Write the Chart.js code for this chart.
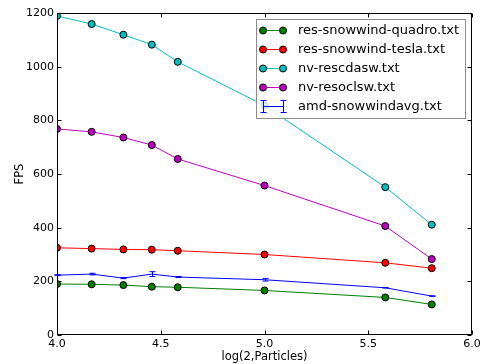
<!DOCTYPE html>
<html>
<head>
<meta charset="utf-8">
<script src="https://cdn.jsdelivr.net/npm/chart.js@4"></script>
<style>
  body { margin: 0; background: #fff; }
  #wrap { width: 485px; height: 364px; }
</style>
</head>
<body>
<div id="wrap"><canvas id="chart" width="485" height="364"></canvas></div>
<script>
// valori
const xVals = [4.0, 4.167, 4.32, 4.457, 4.582, 5.0, 5.582, 5.806];
const quadro = [190, 189, 186, 180, 178, 166, 140, 114];
const tesla = [325, 322, 319, 318, 314, 300, 269, 249];
const cdasw = [1189, 1159, 1119, 1082, 1018, 855, 551, 411];
const oclsw = [768, 757, 736, 708, 656, 557, 406, 283];
const amd = [223, 227, 212, 227, 216, 206, 176, 145];
const amdErr = [2, 3, 2, 9, 2, 5, 1, 1];

const nomi = ['res-snowwind-quadro.txt', 'res-snowwind-tesla.txt', 'nv-rescdasw.txt', 'nv-resoclsw.txt', 'amd-snowwindavg.txt'];
const colori = ['#007f00', '#ff0000', '#00bfbf', '#bf00bf', '#0000ff'];
const xTicks = [4.0, 4.5, 5.0, 5.5, 6.0];
const yTicks = [0, 200, 400, 600, 800, 1000, 1200];

const FONT = '"DejaVu Sans", sans-serif';

function punti(vals) {
  return xVals.map((x, i) => ({ x: x, y: vals[i] }));
}

function serie(i, vals, ordine, marker) {
  return {
    label: nomi[i],
    data: punti(vals),
    borderColor: colori[i],
    backgroundColor: colori[i],
    borderWidth: 1,
    pointRadius: marker ? 3.5 : 0,
    pointBorderColor: '#000',
    pointBorderWidth: 1,
    pointBackgroundColor: colori[i],
    showLine: true,
    tension: 0,
    order: ordine
  };
}

// barre d'errore, cornice, tacche, legenda, titoli
const decorazioni = {
  id: 'decorazioni',
  afterDatasetsDraw(chart) {
    const ctx = chart.ctx;
    const xs = chart.scales.x, ys = chart.scales.y;
    // error bar amd
    ctx.save();
    ctx.strokeStyle = colori[4];
    ctx.lineWidth = 1;
    xVals.forEach((x, i) => {
      const px = Math.round(xs.getPixelForValue(x)) + 0.5;
      const top = ys.getPixelForValue(amd[i] + amdErr[i]);
      const bot = ys.getPixelForValue(amd[i] - amdErr[i]);
      ctx.beginPath();
      ctx.moveTo(px, top); ctx.lineTo(px, bot);
      ctx.moveTo(px - 3, top); ctx.lineTo(px + 3, top);
      ctx.moveTo(px - 3, bot); ctx.lineTo(px + 3, bot);
      ctx.stroke();
    });
    ctx.restore();

    // legenda
    const lx = 256, ly = 19, lw = 209, lh = 99;
    ctx.save();
    ctx.fillStyle = 'rgba(255,255,255,0.82)';
    ctx.fillRect(lx, ly, lw, lh);
    ctx.strokeStyle = '#8c8c8c';
    ctx.lineWidth = 1;
    ctx.strokeRect(lx + 0.5, ly + 0.5, lw, lh);
    ctx.font = '13px ' + FONT;
    ctx.textBaseline = 'middle';
    nomi.forEach((n, i) => {
      const y = 30 + i * 19;
      const x1 = 263, x2 = 283;
      ctx.strokeStyle = colori[i];
      ctx.beginPath();
      ctx.moveTo(x1, y + 0.5); ctx.lineTo(x2, y + 0.5);
      ctx.stroke();
      if (i < 4) {
        [x1, x2].forEach(cx => {
          ctx.beginPath();
          ctx.arc(cx, y + 0.5, 3.5, 0, Math.PI * 2);
          ctx.fillStyle = colori[i];
          ctx.fill();
          ctx.strokeStyle = '#000';
          ctx.stroke();
        });
      } else {
        ctx.strokeStyle = colori[i];
        [x1, x2].forEach(cx => {
          ctx.beginPath();
          ctx.moveTo(cx + 0.5, y - 6); ctx.lineTo(cx + 0.5, y + 7);
          ctx.moveTo(cx - 2.5, y - 6 + 0.5); ctx.lineTo(cx + 3.5, y - 6 + 0.5);
          ctx.moveTo(cx - 2.5, y + 7 - 0.5); ctx.lineTo(cx + 3.5, y + 7 - 0.5);
          ctx.stroke();
        });
      }
      ctx.fillStyle = '#000';
      ctx.fillText(n, 298, y + 1);
    });
    ctx.restore();
  },
  afterDraw(chart) {
    const ctx = chart.ctx;
    const a = chart.chartArea;
    const xs = chart.scales.x, ys = chart.scales.y;
    ctx.save();
    ctx.strokeStyle = '#000';
    ctx.lineWidth = 1;
    const L = Math.round(a.left) + 0.5, R = Math.round(a.right) - 0.5;
    const T = Math.round(a.top) + 0.5, B = Math.round(a.bottom) - 0.5;
    ctx.strokeRect(L, T, R - L, B - T);
    ctx.beginPath();
    xTicks.forEach(v => {
      const px = Math.round(xs.getPixelForValue(v)) + 0.5;
      ctx.moveTo(px, B); ctx.lineTo(px, B - 4);
      ctx.moveTo(px, T); ctx.lineTo(px, T + 4);
    });
    yTicks.forEach(v => {
      const py = Math.round(ys.getPixelForValue(v)) + 0.5;
      ctx.moveTo(L, py); ctx.lineTo(L + 4, py);
      ctx.moveTo(R, py); ctx.lineTo(R - 4, py);
    });
    ctx.stroke();

    // titoli assi
    ctx.fillStyle = '#000';
    ctx.font = '11.5px ' + FONT;
    ctx.textAlign = 'center';
    ctx.textBaseline = 'middle';
    ctx.fillText('log(2,Particles)', (a.left + a.right) / 2, 357);
    ctx.translate(20, (a.top + a.bottom) / 2);
    ctx.rotate(-Math.PI / 2);
    ctx.fillText('FPS', 0, 0);
    ctx.restore();
  }
};

function creaGrafico() {
  const ctx = document.getElementById('chart');
  new Chart(ctx, {
    type: 'scatter',
    data: {
      datasets: [
        serie(0, quadro, 5, true),
        serie(1, tesla, 4, true),
        serie(2, cdasw, 3, true),
        serie(3, oclsw, 2, true),
        serie(4, amd, 1, false)
      ]
    },
    options: {
      responsive: false,
      animation: false,
      layout: { padding: { top: 13, right: 13, left: 0, bottom: 0 } },
      plugins: {
        legend: { display: false },
        tooltip: { enabled: false }
      },
      scales: {
        x: {
          type: 'linear',
          min: 4, max: 6,
          grid: { display: false, drawTicks: false },
          border: { display: false },
          afterBuildTicks: s => { s.ticks = xTicks.map(v => ({ value: v })); },
          afterFit: s => { s.height = 29; },
          ticks: {
            padding: 3,
            color: '#000',
            font: { family: FONT, size: 11 },
            callback: v => Number(v).toFixed(1)
          }
        },
        y: {
          min: 0, max: 1200,
          grid: { display: false, drawTicks: false },
          border: { display: false },
          afterBuildTicks: s => { s.ticks = yTicks.map(v => ({ value: v })); },
          afterFit: s => { s.width = 57; },
          ticks: {
            padding: 3,
            color: '#000',
            font: { family: FONT, size: 11 },
            callback: v => String(v)
          }
        }
      }
    },
    plugins: [decorazioni]
  });
}

document.addEventListener('DOMContentLoaded', creaGrafico);
</script>
</body>
</html>
